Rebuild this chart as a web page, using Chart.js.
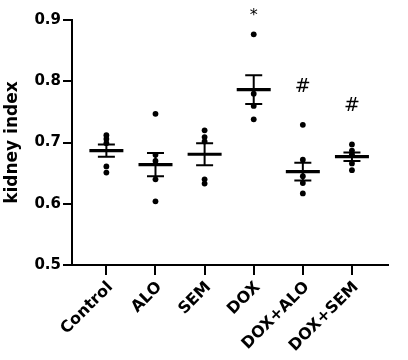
<!DOCTYPE html>
<html>
<head>
<meta charset="utf-8">
<script src="https://cdn.jsdelivr.net/npm/chart.js@4/dist/chart.umd.min.js"></script>
<style>
  html, body { margin: 0; padding: 0; background: #fff; }
  #wrap { width: 408px; height: 360px; }
</style>
</head>
<body>
<div id="wrap"><canvas id="c" width="408" height="360"></canvas></div>
<script>
// groups on the x axis
var categories = ["Control", "ALO", "SEM", "DOX", "DOX+ALO", "DOX+SEM"];

// individual animals, one list per group (kidney index)
var controlVals = [0.712, 0.706, 0.699, 0.661, 0.651];
var aloVals     = [0.747, 0.680, 0.670, 0.640, 0.604];
var semVals     = [0.720, 0.709, 0.702, 0.640, 0.633];
var doxVals     = [0.877, 0.780, 0.760, 0.738];
var doxAloVals  = [0.729, 0.672, 0.645, 0.634, 0.617];
var doxSemVals  = [0.697, 0.687, 0.681, 0.666, 0.655];

// mean and SEM
var means = [0.687, 0.664, 0.681, 0.7865, 0.6525, 0.677];
var sems  = [0.010, 0.019, 0.018, 0.0235, 0.0145, 0.007];

// significance marks and the height they sit at
var sigMarks = ["", "", "", "*", "#", "#"];
var sigY     = [null, null, null, 0.912, 0.791, 0.759];

var yTicks = [0.5, 0.6, 0.7, 0.8, 0.9];

var groups = [controlVals, aloVals, semVals, doxVals, doxAloVals, doxSemVals];

var dots = [];
groups.forEach(function(vals, i) {
  vals.forEach(function(v) { dots.push({ x: i, y: v }); });
});
var meanPts  = means.map(function(m, i) { return { x: i, y: m }; });
var upperPts = means.map(function(m, i) { return { x: i, y: m + sems[i] }; });
var lowerPts = means.map(function(m, i) { return { x: i, y: m - sems[i] }; });

var boldFont = "'DejaVu Sans', sans-serif";

// vertical SEM stems, extended x baseline and the * / # marks
var extras = {
  id: "extras",
  beforeDatasetsDraw: function(chart) {
    var ctx = chart.ctx, xs = chart.scales.x, ys = chart.scales.y;
    ctx.save();
    ctx.strokeStyle = "#000";
    ctx.lineWidth = 2;
    means.forEach(function(m, i) {
      var px = xs.getPixelForValue(i);
      ctx.beginPath();
      ctx.moveTo(px, ys.getPixelForValue(m + sems[i]));
      ctx.lineTo(px, ys.getPixelForValue(m - sems[i]));
      ctx.stroke();
    });
    ctx.restore();
  },
  afterDraw: function(chart) {
    var ctx = chart.ctx, xs = chart.scales.x, ys = chart.scales.y;
    var area = chart.chartArea;
    ctx.save();
    ctx.strokeStyle = "#000";
    ctx.lineWidth = 2;
    ctx.beginPath();
    ctx.moveTo(area.left - 9, area.bottom);
    ctx.lineTo(area.left, area.bottom);
    ctx.stroke();
    ctx.fillStyle = "#000";
    ctx.textAlign = "center";
    ctx.textBaseline = "middle";
    sigMarks.forEach(function(mark, i) {
      if (!mark) return;
      ctx.font = (mark === "*" ? "16px " : "19px ") + "'DejaVu Sans', sans-serif";
      ctx.fillText(mark, xs.getPixelForValue(i), ys.getPixelForValue(sigY[i]) + (mark === "*" ? 3 : 0));
    });
    ctx.restore();
  }
};

new Chart(document.getElementById("c"), {
  type: "scatter",
  data: {
    datasets: [
      {
        data: meanPts, pointStyle: "line", radius: 17, borderWidth: 3.2,
        borderColor: "#000", backgroundColor: "#000"
      },
      {
        data: upperPts, pointStyle: "line", radius: 8.5, borderWidth: 2,
        borderColor: "#000", backgroundColor: "#000"
      },
      {
        data: lowerPts, pointStyle: "line", radius: 8.5, borderWidth: 2,
        borderColor: "#000", backgroundColor: "#000"
      },
      {
        data: dots, pointStyle: "circle", radius: 2.9, borderWidth: 0,
        backgroundColor: "#000", borderColor: "#000"
      }
    ]
  },
  options: {
    responsive: false,
    animation: false,
    layout: { padding: { top: 15, right: 3, left: 0, bottom: 0 } },
    plugins: { legend: { display: false }, tooltip: { enabled: false } },
    scales: {
      x: {
        type: "linear",
        min: -0.7,
        max: 5.73,
        afterBuildTicks: function(scale) {
          scale.ticks = categories.map(function(c, i) { return { value: i }; });
        },
        afterFit: function(scale) { scale.height = 95; },
        grid: {
          drawOnChartArea: false, drawTicks: true, tickLength: 10,
          color: "#000", lineWidth: 2
        },
        border: { display: true, color: "#000", width: 2 },
        ticks: {
          autoSkip: false, maxRotation: 45, minRotation: 45, padding: 3,
          labelOffset: 4,
          color: "#000",
          font: { family: boldFont, size: 16, weight: "bold" },
          callback: function(v) { return categories[v]; }
        }
      },
      y: {
        min: 0.5,
        max: 0.9,
        afterBuildTicks: function(scale) {
          scale.ticks = yTicks.map(function(v) { return { value: v }; });
        },
        afterFit: function(scale) { scale.width = 72; },
        grid: {
          drawOnChartArea: false, drawTicks: true, tickLength: 9,
          color: "#000", lineWidth: 2
        },
        border: { display: true, color: "#000", width: 2 },
        ticks: {
          padding: 2, color: "#000",
          font: { family: boldFont, size: 15, weight: "bold" },
          callback: function(v) { return v.toFixed(1); }
        },
        title: {
          display: true, text: "kidney index", color: "#000",
          padding: { top: 2, bottom: 0 },
          font: { family: boldFont, size: 17, weight: "bold" }
        }
      }
    }
  },
  plugins: [extras]
});
</script>
</body>
</html>
